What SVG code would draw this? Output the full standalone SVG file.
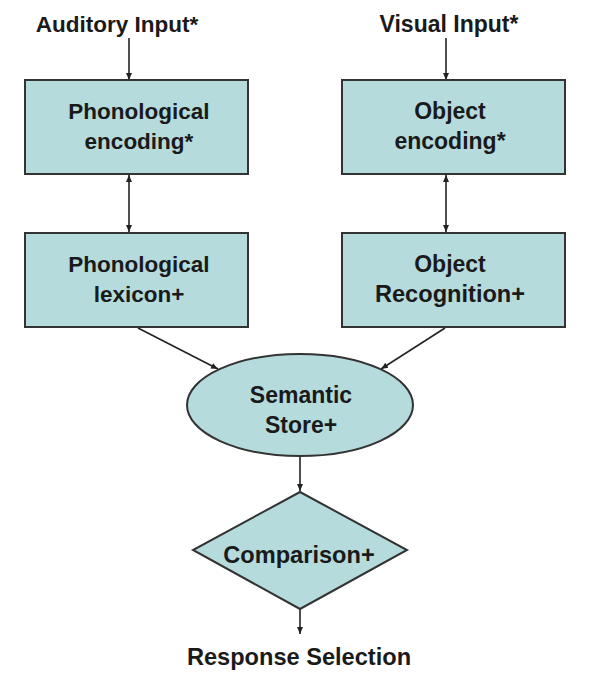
<svg xmlns="http://www.w3.org/2000/svg" width="590" height="696" viewBox="0 0 590 696">
<style>
.box{fill:#b5dbdd;stroke:#333;stroke-width:2}
.t{font-family:"Liberation Sans",Arial,sans-serif;font-weight:bold;font-size:23px;fill:#1a1a1a;text-anchor:middle}
.s{font-size:22.5px}
.l{font-size:23.6px}
.c{stroke:#222;stroke-width:1.6;fill:none;marker-end:url(#ah)}
.d{marker-start:url(#ahs)}
</style>
<defs>
<marker id="ah" markerWidth="8" markerHeight="8" refX="7" refY="4" orient="auto" markerUnits="userSpaceOnUse"><path d="M0,1 L7,4 L0,7 z" fill="#222"/></marker>
<marker id="ahs" markerWidth="8" markerHeight="8" refX="0" refY="4" orient="auto" markerUnits="userSpaceOnUse"><path d="M7,1 L0,4 L7,7 z" fill="#222"/></marker>
</defs>
<rect width="590" height="696" fill="#fff"/>
<g id="connectors">
<line class="c" x1="129" y1="38" x2="129" y2="80"/>
<line class="c" x1="446" y1="38" x2="446" y2="80"/>
<line class="c d" x1="129" y1="175" x2="129" y2="232"/>
<line class="c d" x1="446" y1="175" x2="446" y2="232"/>
<line class="c" x1="138" y1="328" x2="218" y2="369"/>
<line class="c" x1="445" y1="328" x2="381" y2="369"/>
<line class="c" x1="300" y1="456" x2="300" y2="491"/>
<line class="c" x1="300" y1="609" x2="300" y2="634"/>
</g>
<g id="auditory-input"><text class="t s" x="117" y="32">Auditory Input*</text></g>
<g id="visual-input"><text class="t" x="449" y="32">Visual Input*</text></g>
<g id="phonological-encoding">
<rect class="box" x="25" y="80" width="223" height="94"/>
<text class="t s" x="139" y="119">Phonological</text>
<text class="t s" x="139" y="149">encoding*</text>
</g>
<g id="object-encoding">
<rect class="box" x="342" y="80" width="223" height="94"/>
<text class="t" x="450" y="119">Object</text>
<text class="t" x="450" y="149">encoding*</text>
</g>
<g id="phonological-lexicon">
<rect class="box" x="25" y="233" width="223" height="94"/>
<text class="t s" x="139" y="272">Phonological</text>
<text class="t s" x="139" y="301.5">lexicon+</text>
</g>
<g id="object-recognition">
<rect class="box" x="342" y="233" width="223" height="94"/>
<text class="t" x="450" y="272">Object</text>
<text class="t l" x="450" y="301.5">Recognition+</text>
</g>
<g id="semantic-store">
<ellipse class="box" cx="300" cy="405" rx="113" ry="51"/>
<text class="t" x="301" y="403">Semantic</text>
<text class="t" x="301" y="433">Store+</text>
</g>
<g id="comparison">
<polygon class="box" points="300,492 407,550 300,609 193,550"/>
<text class="t l" x="299" y="563">Comparison+</text>
</g>
<g id="response-selection"><text class="t l" x="299" y="665">Response Selection</text></g>
</svg>
